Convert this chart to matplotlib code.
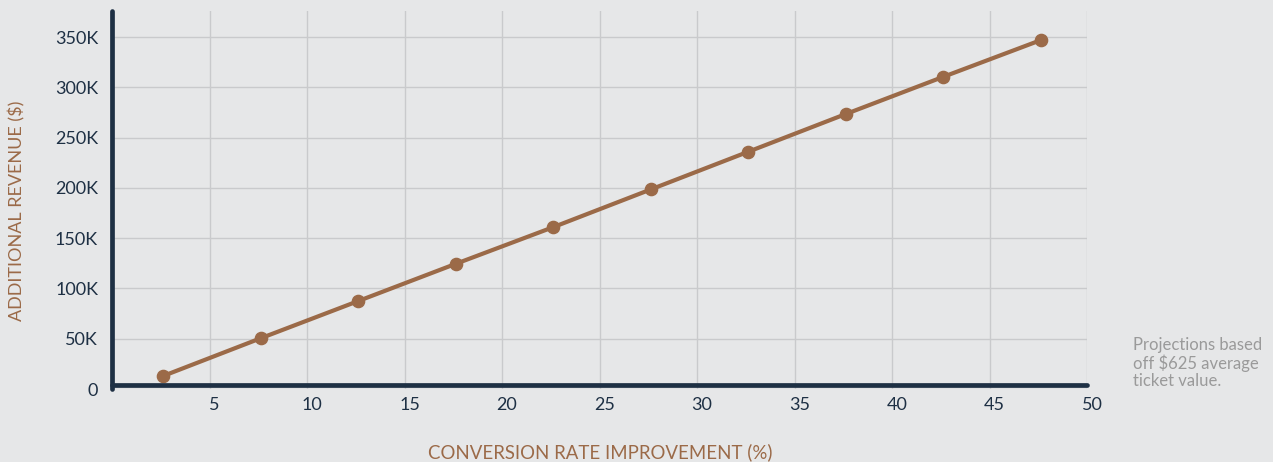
import matplotlib
matplotlib.use("Agg")
import matplotlib.pyplot as plt
import matplotlib.transforms as mtrans
from matplotlib.ticker import FuncFormatter

# conversion rate improvement (%) and additional revenue ($)
rate = [2.5, 7.5, 12.5, 17.5, 22.5, 27.5, 32.5, 37.5, 42.5, 47.5]
revenue = [13000, 50500, 87500, 124500, 161000, 198500, 236000, 273500, 310500, 347000]
x_ticks = [5, 10, 15, 20, 25, 30, 35, 40, 45, 50]
y_ticks = [0, 50000, 100000, 150000, 200000, 250000, 300000, 350000]

note = "Projections based\noff $625 average\nticket value."

bg = "#e6e7e8"
brown = "#9b6a48"
navy = "#1e3044"

plt.rcParams['font.family'] = ['Lato', 'DejaVu Sans']

W, H = 1273, 462
fig = plt.figure(figsize=(W / 100, H / 100), dpi=100)
fig.patch.set_facecolor(bg)

left, right, top, bottom = 112, 1087, 11, 389
ax = fig.add_axes([left / W, 1 - bottom / H, (right - left) / W, (bottom - top) / H])
ax.set_facecolor(bg)

# points sit a touch right of the gridlines in the original
pt_shift = mtrans.ScaledTranslation(2.5 / 100, 0, fig.dpi_scale_trans)
ax.plot(rate, revenue, color=brown, lw=3.0, marker='o', ms=8.8,
        solid_capstyle='round', zorder=3, clip_on=False,
        transform=ax.transData + pt_shift)

ax.set_xlim(0, 50)
ax.set_ylim(0, 376000)
ax.set_xticks(x_ticks)
ax.set_yticks(y_ticks)
ax.yaxis.set_major_formatter(FuncFormatter(lambda v, p: "0" if v == 0 else f"{int(v / 1000)}K"))

ax.grid(True, color="#c9cacc", lw=1)
ax.set_axisbelow(True)

for s in ['top', 'right']:
    ax.spines[s].set_visible(False)
for s in ['left', 'bottom']:
    ax.spines[s].set_color(navy)
    ax.spines[s].set_linewidth(3.4)
    ax.spines[s].set_capstyle('round')
    ax.spines[s].set_zorder(4)
ax.spines['bottom'].set_position(('outward', -3))

ax.tick_params(length=0, labelsize=13, colors=navy)
ax.tick_params(axis='x', pad=9)
ax.tick_params(axis='y', pad=10)

# x tick labels sit a little right of their gridline
shift = mtrans.ScaledTranslation(5 / 100, 0, fig.dpi_scale_trans)
for lab in ax.get_xticklabels():
    lab.set_transform(lab.get_transform() + shift)

fig.text(17 / W, 1 - 211 / H, "ADDITIONAL REVENUE ($)", rotation=90, color=brown,
         fontsize=13, ha='center', va='center')
fig.text(600 / W, 1 - 452 / H, "CONVERSION RATE IMPROVEMENT (%)", color=brown,
         fontsize=13.4, ha='center', va='center')
fig.text(1133 / W, 1 - 363 / H, note, color="#9a9a9a", fontsize=12,
         ha='left', va='center', linespacing=1.1)

fig.savefig("out.png", dpi=100, facecolor=bg)
